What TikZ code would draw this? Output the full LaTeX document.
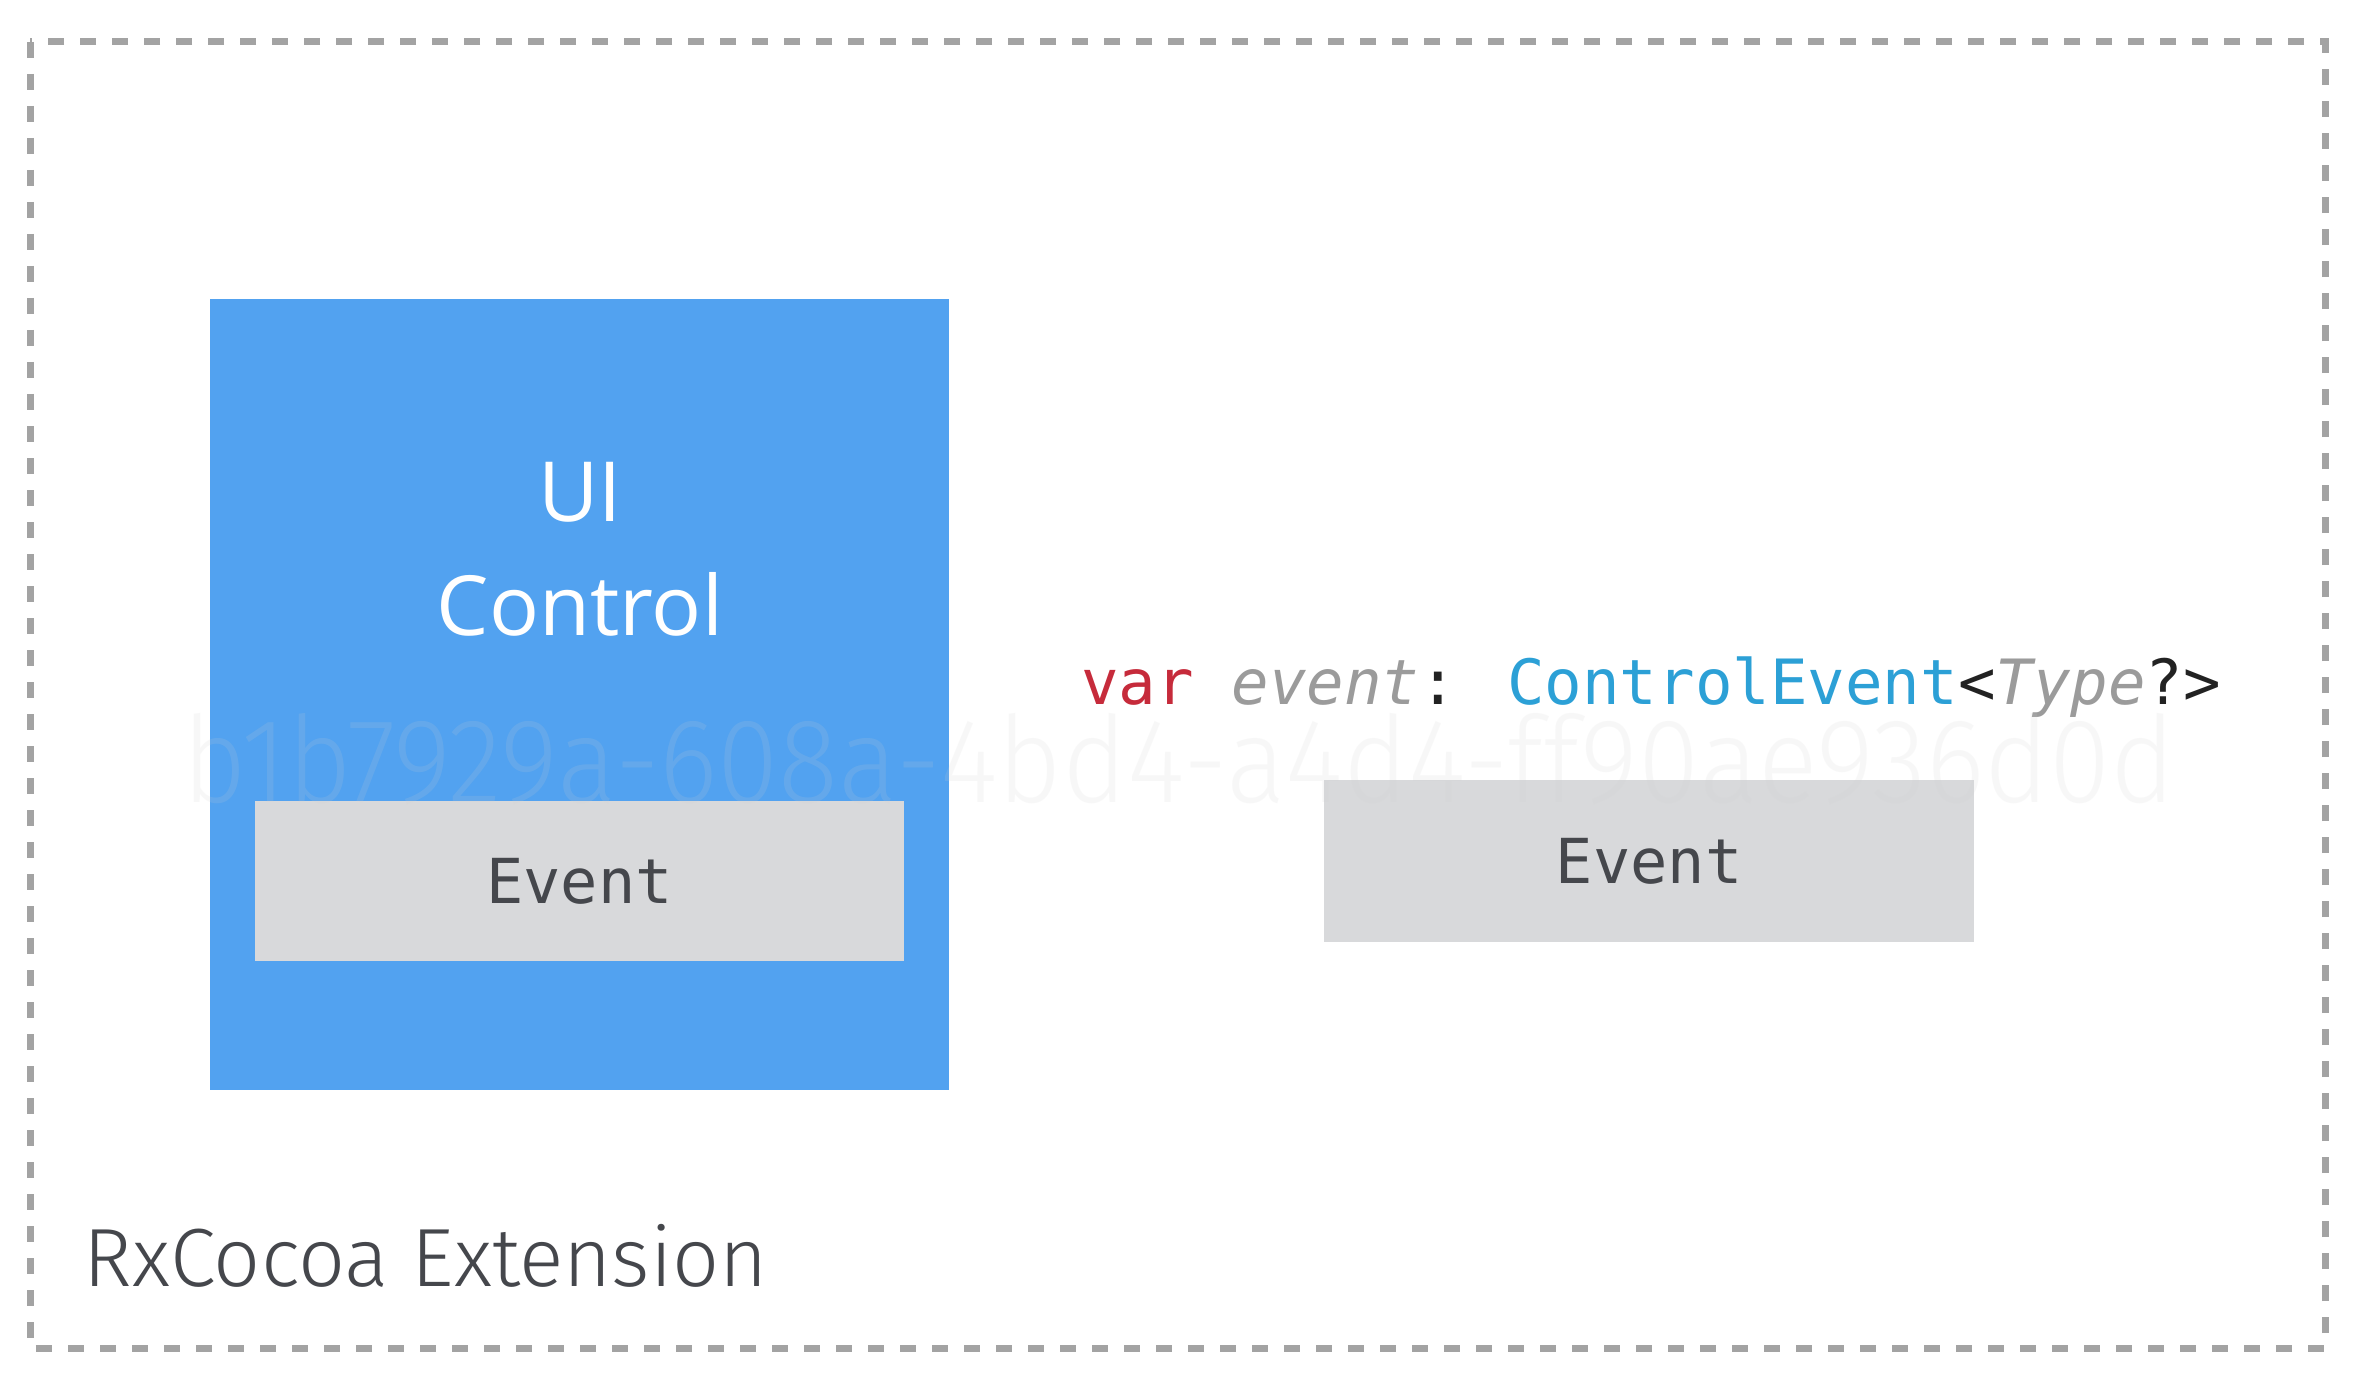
\documentclass[tikz,border=0pt]{standalone}
\usepackage{fontspec}
\setmainfont{Open Sans}
\newfontfamily\codefont{DejaVu Sans Mono}
\newfontfamily\labelfont{Fira Sans Light}
\newfontfamily\wmfont{Fira Sans Light}
\definecolor{borderc}{HTML}{A3A3A3}
\definecolor{bluec}{HTML}{52A2F0}
\definecolor{grayc}{HTML}{D8D9DB}
\definecolor{darkc}{HTML}{45474C}
\definecolor{redc}{HTML}{C62B3B}
\definecolor{italc}{HTML}{9B9B9B}
\definecolor{cyanc}{HTML}{2CA0D6}
\definecolor{blackc}{HTML}{222222}
\definecolor{wmc}{HTML}{D0D0D0}
\tikzset{
  frame/.style={draw=borderc, line width=3.5pt, dash pattern=on 8pt off 8pt},
  ctlbox/.style={fill=bluec, draw=none},
  evbox/.style={fill=grayc, draw=none},
  evtext/.style={text=darkc, font=\codefont\fontsize{31}{38}\selectfont},
  uitext/.style={text=white, font=\fontsize{41.5}{50}\selectfont, anchor=base, inner sep=0pt},
}
\begin{document}
\begin{tikzpicture}[x=0.5pt,y=-0.5pt]
\useasboundingbox (0,0) rectangle (2370,1390);
\fill[white] (0,0) rectangle (2370,1390);
\draw[frame] (30,42) rectangle (2325,1348);
\path[ctlbox] (210,299) rectangle (949,1090);
\node[uitext] (ui) at (580,521) {UI};
\node[uitext] (ctl) at (580,635) {Control};
\path[evbox] (255,801) rectangle (904,961);
\node[evtext] (ev1) at (579.5,881) {Event};
\path[evbox] (1324,780) rectangle (1974,942);
\node[evtext] (ev2) at (1649,861) {Event};
\node[anchor=base west, inner sep=0pt, font=\codefont\fontsize{31.2}{38}\selectfont] (code) at (1081,704)
  {\textcolor{redc}{var} \textcolor{italc}{\itshape event}\textcolor{blackc}{:} \textcolor{cyanc}{ControlEvent}\textcolor{blackc}{<}\textcolor{italc}{\itshape Type}\textcolor{blackc}{?>}};
\node[anchor=base west, inner sep=0pt, text=darkc, font=\labelfont\fontsize{41.3}{50}\selectfont] (lbl) at (83,1286) {RxCocoa Extension};
\node[anchor=base, inner sep=0pt, text=wmc, opacity=0.15, xscale=0.925, transform shape, font=\wmfont\fontsize{60}{70}\selectfont] (wm) at (1179,802) {b1b7929a-608a-4bd4-a4d4-ff90ae936d0d};
\end{tikzpicture}
\end{document}
